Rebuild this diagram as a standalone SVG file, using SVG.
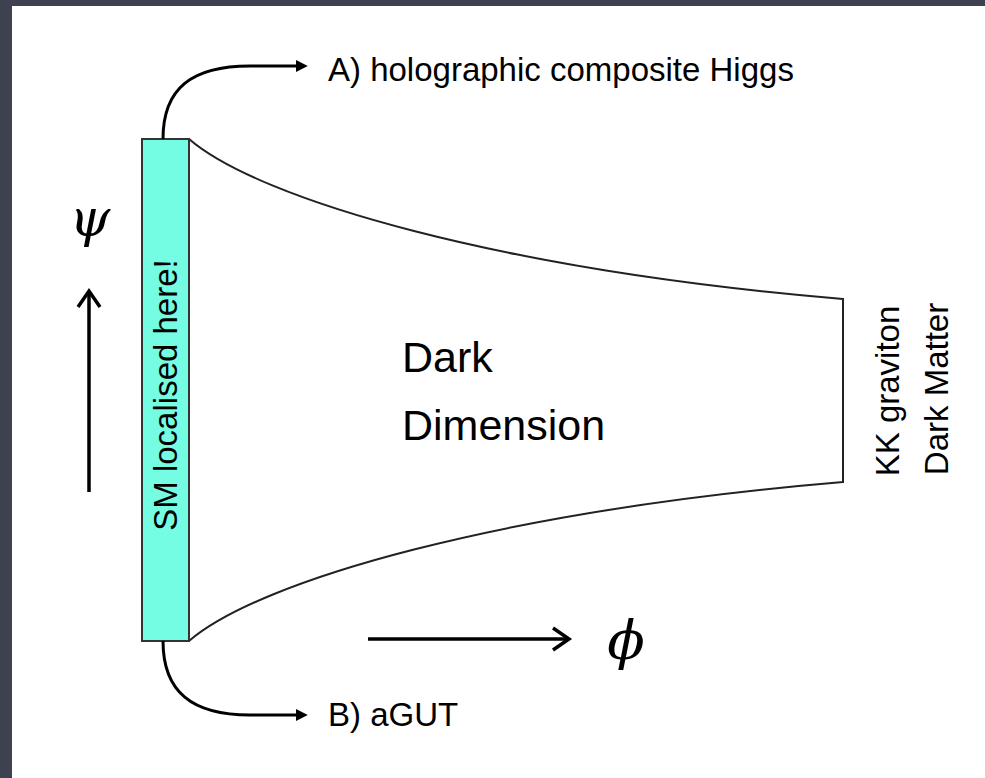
<svg xmlns="http://www.w3.org/2000/svg" width="985" height="778" viewBox="0 0 985 778">
  <style>
    .lbl { font-family: "Liberation Sans", Arial, Helvetica, sans-serif; fill: #000; }
    .conn { fill: none; stroke: #000; stroke-width: 3; }
    .axis { fill: none; stroke: #000; stroke-width: 3.5; }
    .math { font-family: "DejaVu Serif", "Liberation Serif", serif; font-style: italic; fill: #000; }
  </style>
  <defs>
    <marker id="solid" viewBox="0 0 10 10" refX="1" refY="5" markerWidth="12" markerHeight="14" markerUnits="userSpaceOnUse" orient="auto">
      <path d="M0,0 L10,5 L0,10 z" fill="#000"/>
    </marker>
  </defs>
  <rect x="0" y="0" width="985" height="778" fill="#3e4150"/>
  <rect x="12" y="6" width="973" height="772" fill="#ffffff"/>

  <g id="dark-dimension">
    <path d="M189,139 C260,200 500,270 843,299 L843,482 C500,511 260,580 189,641" fill="#fff" stroke="#222" stroke-width="2"/>
    <text class="lbl" x="402" y="372" font-size="43">Dark</text>
    <text class="lbl" x="402" y="440" font-size="43">Dimension</text>
  </g>

  <g id="sm-brane">
    <rect x="142" y="139" width="47" height="502" fill="#74fde2" stroke="#333" stroke-width="2"/>
    <text class="lbl" font-size="33" text-anchor="middle" transform="translate(177,395) rotate(-90)">SM localised here!</text>
  </g>

  <g id="kk-graviton">
    <text class="lbl" font-size="33" text-anchor="middle" transform="translate(899,391) rotate(-90)">KK graviton</text>
    <text class="lbl" font-size="33" text-anchor="middle" transform="translate(948,389) rotate(-90)">Dark Matter</text>
  </g>

  <g id="label-a">
    <text class="lbl" x="328" y="81" font-size="33">A) holographic composite Higgs</text>
  </g>
  <g id="label-b">
    <text class="lbl" x="328" y="726" font-size="33">B) aGUT</text>
  </g>

  <g id="psi-axis">
    <text class="math" x="90" y="236" font-size="52" text-anchor="middle">ψ</text>
  </g>
  <g id="phi-axis">
    <text class="math" x="626" y="659" font-size="55" text-anchor="middle">ϕ</text>
  </g>

  <g id="connectors">
    <path class="conn" d="M163,139 C163,88 192,66 250,66 L297,66" marker-end="url(#solid)"/>
    <path class="conn" d="M163,641 C163,692 192,715 250,715 L297,715" marker-end="url(#solid)"/>
    <path class="axis" d="M89,492 L89,291"/>
    <path class="axis" d="M78,307 L89,291 L100,307" stroke-linejoin="miter"/>
    <path class="axis" d="M368,639 L569,639"/>
    <path class="axis" d="M553,628 L569,639 L553,650"/>
  </g>
</svg>
